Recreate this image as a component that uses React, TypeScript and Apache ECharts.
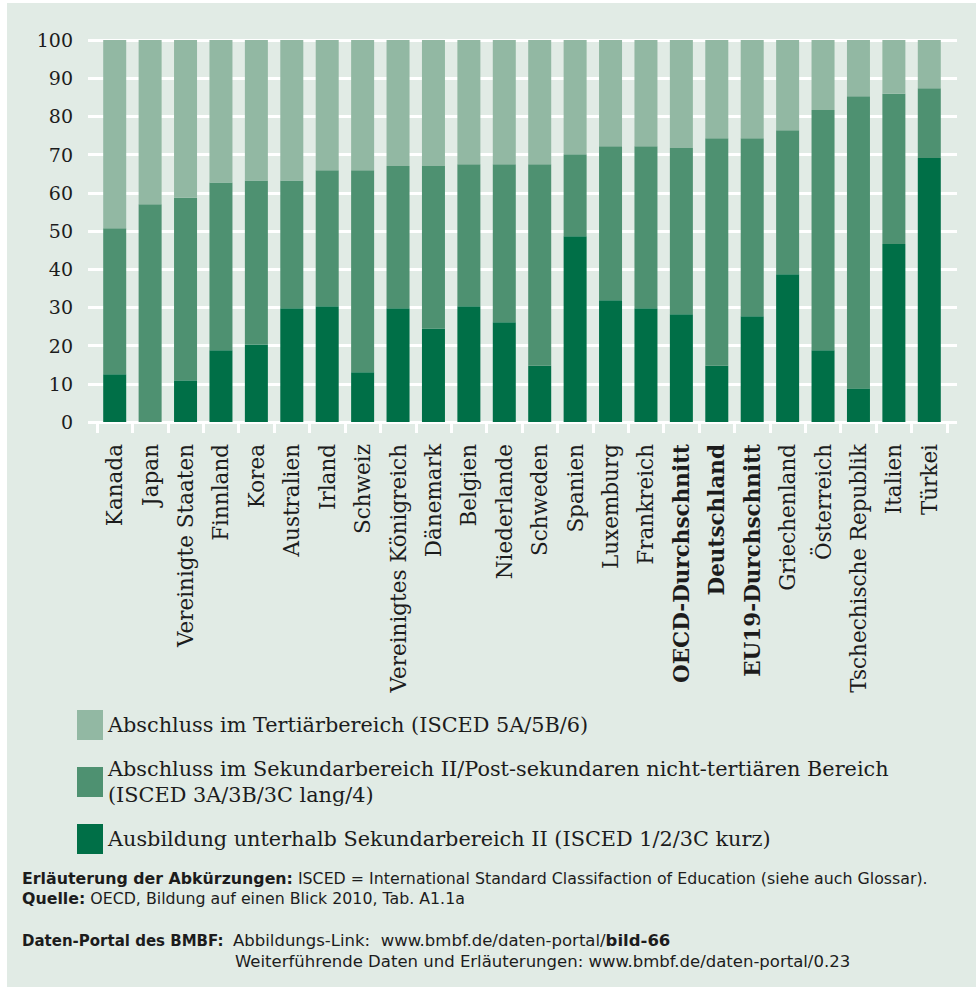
import React, { useEffect, useRef } from "react";
import * as echarts from "echarts";

const categories = [
  "Kanada", "Japan", "Vereinigte Staaten", "Finnland", "Korea", "Australien", "Irland",
  "Schweiz", "Vereinigtes Königreich", "Dänemark", "Belgien", "Niederlande", "Schweden",
  "Spanien", "Luxemburg", "Frankreich", "OECD-Durchschnitt", "Deutschland",
  "EU19-Durchschnitt", "Griechenland", "Österreich", "Tschechische Republik", "Italien", "Türkei",
];
const boldCategories = ["OECD-Durchschnitt", "Deutschland", "EU19-Durchschnitt"];

const belowSecondary = [12.5, 0, 10.9, 18.8, 20.3, 29.8, 30.3, 13.0, 29.8, 24.5, 30.3, 26.1, 14.7, 48.6, 31.9, 29.8, 28.2, 14.7, 27.7, 38.7, 18.8, 8.8, 46.6, 69.1];
const secondary = [38.2, 57.0, 47.8, 43.9, 42.9, 33.4, 35.6, 52.9, 37.2, 42.5, 37.2, 41.4, 52.8, 21.5, 40.3, 42.4, 43.5, 59.6, 46.6, 37.7, 62.9, 76.5, 39.3, 18.3];
const tertiary = [49.3, 43.0, 41.3, 37.3, 36.8, 36.8, 34.1, 34.1, 33.0, 33.0, 32.5, 32.5, 32.5, 29.9, 27.8, 27.8, 28.3, 25.7, 25.7, 23.6, 18.3, 14.7, 14.1, 12.6];

const yTicks = { min: 0, max: 100, interval: 10 };

const nameTertiary = "Abschluss im Tertiärbereich (ISCED 5A/5B/6)";
const nameSecondary = "Abschluss im Sekundarbereich II/Post-sekundaren nicht-tertiären Bereich\n(ISCED 3A/3B/3C lang/4)";
const nameBelow = "Ausbildung unterhalb Sekundarbereich II (ISCED 1/2/3C kurz)";

const noteLine1 = "{b|Erläuterung der Abkürzungen:} ISCED = International Standard Classifaction of Education (siehe auch Glossar).";
const noteLine2 = "{b|Quelle:} OECD, Bildung auf einen Blick 2010, Tab. A1.1a";
const noteLine3a = "{b|Daten-Portal des BMBF:}";
const noteLine3b = "Abbildungs-Link:  www.bmbf.de/daten-portal/{b|bild-66}";
const noteLine4 = "Weiterführende Daten und Erläuterungen: www.bmbf.de/daten-portal/0.23";

const C_TERT = "#92b8a3";
const C_SEC = "#4e9171";
const C_BELOW = "#006f47";
const BG = "#e1ebe5";
const TXT = "#1c1c1c";
const SERIF = "DejaVu Serif";
const SANS = "DejaVu Sans";

export default function App() {
  const ref = useRef<HTMLDivElement>(null);
  useEffect(() => {
    if (!ref.current) return;
    const chart = echarts.init(ref.current, undefined, { renderer: "svg" });
    const legendBase = {
      orient: "vertical",
      left: 77,
      padding: 0,
      icon: "rect",
      itemWidth: 26,
      itemHeight: 30,
      itemGap: 0,
      itemTextGap: 6,
      selectedMode: false,
      textStyle: { fontFamily: SERIF, fontSize: 20.8, color: TXT, lineHeight: 26 },
    };
    const noteStyle = (text: string, size: number) => ({
      text,
      fontFamily: SANS,
      fontSize: size,
      fill: TXT,
      rich: { b: { fontWeight: "bold", fontFamily: SANS, fontSize: size, fill: TXT } },
    });
    chart.setOption({
      animation: false,
      backgroundColor: "transparent",
      graphic: [
        { type: "rect", z: -100, silent: true, shape: { x: 7, y: 3, width: 969, height: 984 }, style: { fill: BG } },
        { type: "text", left: 22, top: 870, style: noteStyle(noteLine1, 15.8) },
        { type: "text", left: 22, top: 890, style: noteStyle(noteLine2, 15.8) },
        { type: "text", left: 22, top: 933, style: noteStyle(noteLine3a, 15) },
        { type: "text", left: 233, top: 932, style: noteStyle(noteLine3b, 16.5) },
        { type: "text", left: 235, top: 953, style: noteStyle(noteLine4, 16.5) },
      ],
      legend: [
        { ...legendBase, top: 710, data: [nameTertiary] },
        { ...legendBase, top: 756, data: [nameSecondary] },
        { ...legendBase, top: 824, data: [nameBelow] },
      ],
      grid: [
        { left: 97, right: 29, top: 40, bottom: 565 },
        { left: 88, right: 19, top: 40, bottom: 565 },
      ],
      xAxis: [
        {
          type: "category",
          gridIndex: 0,
          data: categories.map((c) =>
            boldCategories.includes(c) ? { value: c, textStyle: { fontWeight: "bold" } } : c
          ),
          axisLine: { show: true, lineStyle: { color: "#ffffff", width: 3 } },
          axisTick: { show: true, length: 11, lineStyle: { color: "#ffffff", width: 3 } },
          axisLabel: {
            rotate: 90,
            interval: 0,
            margin: 22,
            fontFamily: SERIF,
            fontSize: 21.5,
            color: TXT,
          },
        },
        { type: "category", gridIndex: 1, data: categories, show: false },
      ],
      yAxis: [
        {
          type: "value",
          gridIndex: 0,
          ...yTicks,
          axisLine: { show: false },
          axisTick: { show: false },
          splitLine: { show: false },
          axisLabel: { margin: 24, fontFamily: SERIF, fontSize: 19, color: TXT },
        },
        {
          type: "value",
          gridIndex: 1,
          ...yTicks,
          axisLine: { show: false },
          axisTick: { show: false },
          axisLabel: { show: false },
          splitLine: { show: true, lineStyle: { color: "#ffffff", width: 3 } },
        },
      ],
      series: [
        { name: nameBelow, type: "bar", stack: "all", data: belowSecondary, barWidth: 23, itemStyle: { color: C_BELOW } },
        { name: nameSecondary, type: "bar", stack: "all", data: secondary, barWidth: 23, itemStyle: { color: C_SEC } },
        { name: nameTertiary, type: "bar", stack: "all", data: tertiary, barWidth: 23, itemStyle: { color: C_TERT } },
      ],
    });
    return () => chart.dispose();
  }, []);
  return (
    <div style={{ position: "absolute", left: 0, top: 0, width: 976, height: 987, background: "#ffffff" }}>
      <div ref={ref} style={{ width: 976, height: 987 }} />
    </div>
  );
}
